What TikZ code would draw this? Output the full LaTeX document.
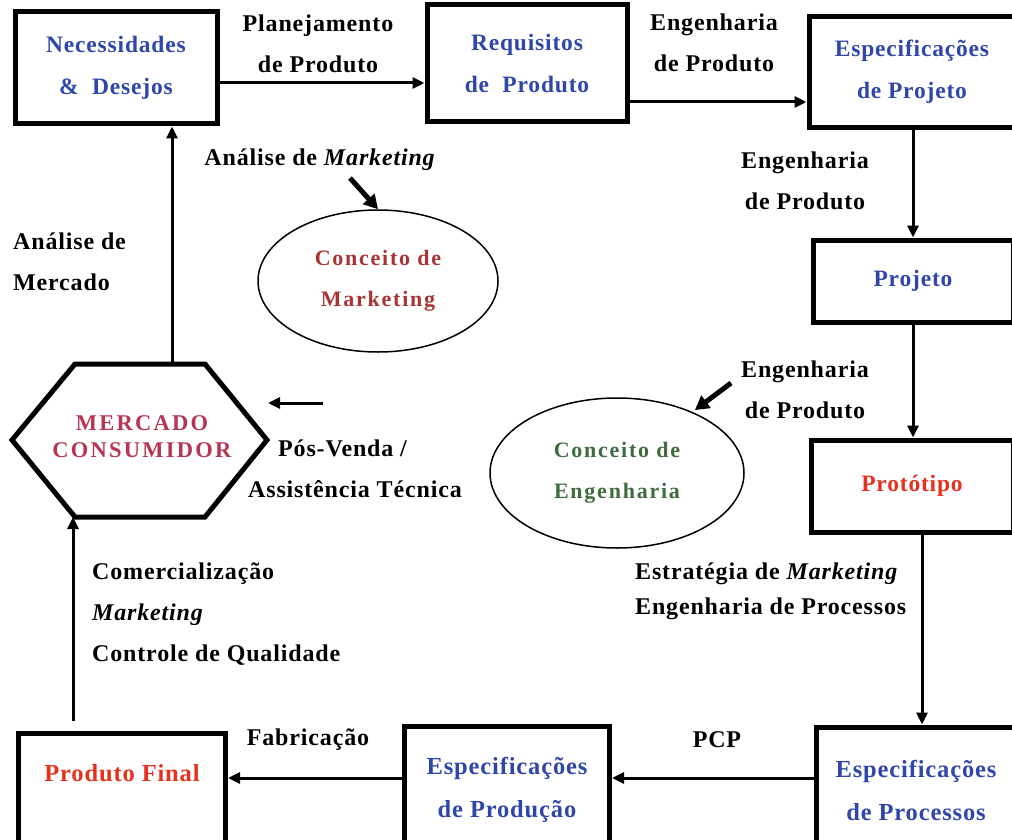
\documentclass[tikz,border=0pt]{standalone}
\usepackage{fontspec}
\setmainfont{Liberation Serif}[LetterSpace=3.5]
\usetikzlibrary{arrows.meta,shapes.geometric}
\definecolor{azul}{HTML}{3046A8}
\definecolor{vermelho}{HTML}{E5321F}
\definecolor{vinho}{HTML}{A83434}
\definecolor{verde}{HTML}{3F6B3F}
\definecolor{rosa}{HTML}{B53552}
\newcommand{\rotfont}{\bfseries\fontsize{24}{41}\selectfont}
\newcommand{\caixafont}{\bfseries\fontsize{23.5}{42}\selectfont}

\begin{document}
\begin{tikzpicture}[x=1pt, y=-1pt, >={Triangle[length=12pt, width=11pt]},
  caixa/.style={draw, line width=5pt, align=center, inner sep=0pt, text=azul, font=\caixafont},
  rotulo/.style={align=center, inner sep=0pt, font=\rotfont},
  conceito/.style={draw, ellipse, line width=1.5pt, align=center, inner sep=0pt, font=\rotfont\fontsize{22}{41}\selectfont\addfontfeature{LetterSpace=8}},
  seta/.style={->, line width=3pt},
  setagrossa/.style={-{Triangle[length=14pt, width=15pt]}, line width=5pt}]
\useasboundingbox (0,0) rectangle (1012,840);

% caixas
\node[caixa, minimum width=202pt, minimum height=112pt] (nec) at (116,68) {Necessidades\\\&\ \ Desejos};
\node[caixa, minimum width=200pt, minimum height=117pt] (req) at (527,63) {Requisitos\\de\ \ Produto};
\node[caixa, minimum width=206pt, minimum height=111pt] (espj) at (912,72) {Especificações\\de Projeto};
\node[caixa, minimum width=200pt, minimum height=82pt] (proj) at (913,281) {Projeto};
\node[caixa, minimum width=202pt, minimum height=92pt, text=vermelho] (prot) at (912,486) {Protótipo};
\node[caixa, minimum width=200pt, minimum height=126pt, font=\bfseries\fontsize{24.5}{43}\selectfont] (espc) at (916,790) {Especificações\\de Processos};
\node[caixa, minimum width=205pt, minimum height=128pt, font=\bfseries\fontsize{24.5}{43}\selectfont] (espd) at (507,790) {Especificações\\de Produção};
\node[caixa, minimum width=207pt, minimum height=120pt, text=vermelho, font=\bfseries\fontsize{24.5}{41}\selectfont] (fin) at (122,793) {Produto Final\\\mbox{}};

% mercado
\draw[line width=5pt] (12,440) -- (75,364) -- (205,364) -- (267,440) -- (205,517) -- (75,517) -- cycle;
\coordinate (ht) at (172,364);
\coordinate (hb) at (73,517);
\node[align=center, inner sep=0pt, text=rosa, font=\bfseries\fontsize{22.5}{27}\selectfont\addfontfeature{LetterSpace=10}] (merc) at (142,437) {MERCADO\\CONSUMIDOR};

% conceitos
\node[conceito, text=vinho, minimum width=240pt, minimum height=142pt] (cmk) at (378,281) {Conceito de\\Marketing};
\node[conceito, text=verde, minimum width=254pt, minimum height=150pt] (cen) at (617,473) {Conceito de\\Engenharia};

% rotulos
\node[rotulo] (l1) at (318,44) {Planejamento\\de Produto};
\node[rotulo] (l2) at (714,43) {Engenharia\\de Produto};
\node[rotulo] (l3) at (320,160) {Análise de \textit{Marketing}};
\node[rotulo] (l4) at (805,181) {Engenharia\\de Produto};
\node[rotulo, anchor=west, align=left] (l5) at (13,262) {Análise de\\Mercado};
\node[rotulo] (l6) at (805,390) {Engenharia\\de Produto};
\node[rotulo, anchor=west, align=left] (l7) at (248,469) {\hspace*{30pt}Pós-Venda /\\Assistência Técnica};
\node[rotulo, anchor=west, align=left] (l8) at (92,614) {Comercialização\\\textit{Marketing}\\Controle de Qualidade};
\node[rotulo, anchor=west, align=left, font=\bfseries\fontsize{24}{35}\selectfont] (l9) at (635,591) {Estratégia de \textit{Marketing}\\Engenharia de Processos};
\node[rotulo] (l10) at (308,740) {Fabricação};
\node[rotulo] (l11) at (717,740) {PCP};

% setas
\draw[seta] (nec.east |- 0,83) -- (req.west |- 0,83);
\draw[seta] (req.east |- 0,102) -- (espj.west |- 0,102);
\draw[seta] (espj.south -| proj.north) -- (proj.north);
\draw[seta] (proj.south) -- (prot.north -| proj.south);
\draw[seta] (prot.south -| 922,0) -- (espc.north -| 922,0);
\draw[seta] (espc.west |- 0,778) -- (espd.east |- 0,778);
\draw[seta] (espd.west |- 0,778) -- (fin.east |- 0,778);
\draw[seta, shorten <=10pt] (fin.north -| hb) -- (hb);
\draw[seta] (ht) -- (nec.south -| ht);
\coordinate (pv1) at (323,403);
\coordinate (pv2) at (268,403);
\draw[seta] (pv1) -- (pv2);
\coordinate (pm) at (350,178);
\draw[setagrossa] (pm) -- (cmk.north);
\coordinate (pe) at (731,383);
\draw[setagrossa, shorten >=3pt] (pe) -- (cen.39);
\end{tikzpicture}
\end{document}
